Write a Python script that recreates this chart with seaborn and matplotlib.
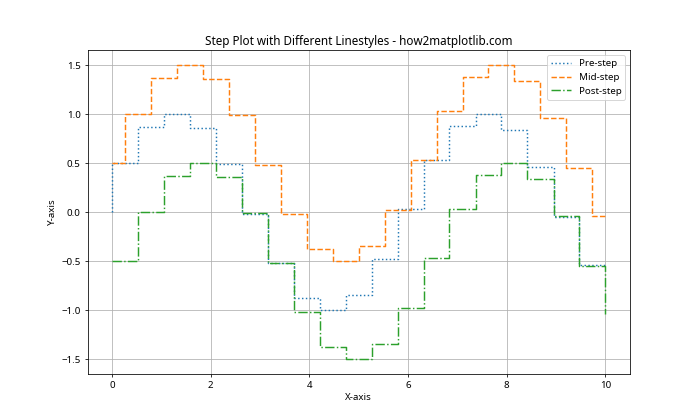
import matplotlib
matplotlib.use("Agg")
import matplotlib.pyplot as plt
import seaborn as sns

# values
x_vals = [0.00, 0.53, 1.05, 1.58, 2.11, 2.63, 3.16, 3.68, 4.21, 4.74,
          5.26, 5.79, 6.32, 6.84, 7.37, 7.89, 8.42, 8.95, 9.47, 10.00]
pre_step = [0.00, 0.50, 0.87, 1.00, 0.86, 0.49, -0.02, -0.52, -0.88, -1.00,
            -0.85, -0.48, 0.03, 0.53, 0.88, 1.00, 0.84, 0.46, -0.05, -0.54]
mid_step = [0.50, 1.00, 1.37, 1.50, 1.36, 0.99, 0.48, -0.02, -0.38, -0.50,
            -0.35, 0.02, 0.53, 1.03, 1.38, 1.50, 1.34, 0.96, 0.45, -0.04]
post_step = [-0.50, 0.00, 0.37, 0.50, 0.36, -0.01, -0.52, -1.02, -1.38, -1.50,
             -1.35, -0.98, -0.47, 0.03, 0.38, 0.50, 0.34, -0.04, -0.55, -1.04]

plt.rcParams["font.family"] = ["Noto Sans", "DejaVu Sans"]

plt.figure(figsize=(10, 6), dpi=70)
sns.lineplot(x=x_vals, y=pre_step, drawstyle="steps-pre", linestyle=":",
             color="C0", label="Pre-step")
sns.lineplot(x=x_vals, y=mid_step, drawstyle="steps-mid", linestyle="--",
             color="C1", label="Mid-step")
sns.lineplot(x=x_vals, y=post_step, drawstyle="steps-post", linestyle="-.",
             color="C2", label="Post-step")
plt.title("Step Plot with Different Linestyles - how2matplotlib.com")
plt.xlabel("X-axis")
plt.ylabel("Y-axis")
plt.legend(loc="upper right")
plt.grid(True)
plt.savefig("out.png")
